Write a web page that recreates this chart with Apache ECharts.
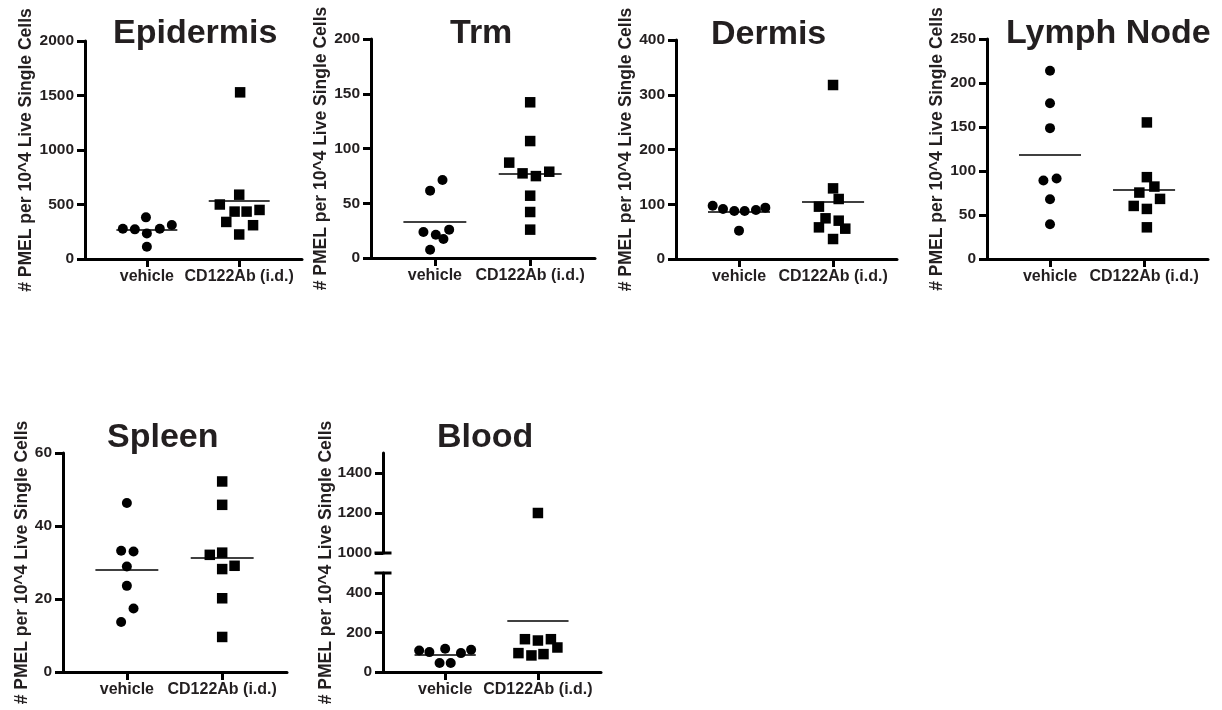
<!DOCTYPE html>
<html lang="en" style="height: 100%">
<head>
  <meta charset="utf-8">
</head>
<body style="height: 100%; margin: 0; background: #fff">
  <div id="container" style="width: 1222px; height: 710px"></div>

  <script type="text/javascript" src="https://cdn.jsdelivr.net/npm/echarts@6/dist/echarts.min.js"></script>

  <script type="text/javascript">
    // categories / titles / ticks
    var groups = ['vehicle', 'CD122Ab (i.d.)'];
    var titles = ['Epidermis', 'Trm', 'Dermis', 'Lymph Node', 'Spleen', 'Blood'];
    var yName = '# PMEL per 10^4 Live Single Cells';
    var yMax = [2000, 200, 400, 250, 60];
    var yStep = [500, 50, 100, 50, 20];
    var bloodLowTicks = [0, 200, 400];
    var bloodHighTicks = [1000, 1200, 1400];

    // values; *X = horizontal spread of each dot (category units)
    var epidermisVehicle = [278, 272, 235, 278, 312, 382, 113];
    var epidermisVehicleX = [-0.26, -0.13, 0, 0.14, 0.27, -0.01, 0];
    var epidermisCD = [1529, 590, 500, 435, 435, 450, 340, 310, 225];
    var epidermisCDX = [0.01, 0, -0.21, -0.05, 0.08, 0.22, -0.14, 0.15, 0];

    var trmVehicle = [61.5, 71.3, 23.7, 21.3, 25.9, 17.4, 7.6];
    var trmVehicleX = [-0.05, 0.08, -0.12, 0.01, 0.15, 0.09, -0.05];
    var trmCD = [142.2, 106.8, 87.1, 77.3, 74.8, 78.8, 56.9, 42.0, 25.9];
    var trmCDX = [0, 0, -0.22, -0.08, 0.06, 0.2, 0, 0, 0];

    var dermisVehicle = [97.4, 91.3, 87.7, 87.7, 89.5, 93.8, 51.8];
    var dermisVehicleX = [-0.28, -0.17, -0.05, 0.06, 0.18, 0.28, 0];
    var dermisCD = [317.8, 129, 109.6, 95.6, 74.3, 70, 57.8, 55.4, 36.5];
    var dermisCDX = [0, 0, 0.06, -0.15, -0.08, 0.06, -0.15, 0.13, 0];

    var lymphVehicle = [214, 177, 148.7, 89.2, 91.4, 67.9, 39.5];
    var lymphVehicleX = [0, 0, 0, -0.07, 0.07, 0, 0];
    var lymphCD = [155.2, 93, 82.3, 75.5, 68.3, 60.3, 56.9, 36];
    var lymphCDX = [0.03, 0.03, 0.11, -0.05, 0.17, -0.11, 0.03, 0.03];

    var spleenVehicle = [46.3, 33.2, 33, 28.9, 23.6, 17.4, 13.7];
    var spleenVehicleX = [0, -0.06, 0.07, 0, 0, 0.07, -0.06];
    var spleenCD = [52.2, 45.8, 32.1, 32.7, 29.1, 28.2, 20.2, 9.6];
    var spleenCDX = [0, 0, -0.13, 0, 0.13, 0, 0, 0];

    var bloodVehicle = [108.8, 100.4, 117, 95.4, 112, 45.2, 45.2];
    var bloodVehicleX = [-0.28, -0.17, 0, 0.17, 0.28, -0.06, 0.06];
    var bloodCD = [1200, 165.7, 159, 165.7, 95.4, 83.7, 90.4, 123.8];
    var bloodCDX = [0, -0.14, 0, 0.14, -0.21, -0.07, 0.06, 0.21];

    // layout
    var FONT = '"Liberation Sans", Arial, Helvetica, sans-serif';
    var INK = '#231f20';
    var X_MIN = -0.67, X_MAX = 1.68, HALF = 0.33;
    var boxes = [
      { left: 85, top: 41, width: 217, height: 218, tx: 113, ty: 17, gap: 47 },
      { left: 371, top: 39, width: 224, height: 219, tx: 450, ty: 17, gap: 35 },
      { left: 676, top: 40, width: 221, height: 219, tx: 711, ty: 18, gap: 35 },
      { left: 987, top: 39, width: 221, height: 220, tx: 1006, ty: 17, gap: 36 },
      { left: 63, top: 453, width: 224, height: 219, tx: 107, ty: 421, gap: 28 }
    ];
    var blood = { left: 383, width: 218, upTop: 453, upH: 100, lowTop: 573, lowH: 99, tx: 437, ty: 421, gap: 48 };

    var dom = document.getElementById('container');
    var myChart = echarts.init(dom, null, { renderer: 'canvas' });

    function mean(a) {
      var s = 0;
      for (var i = 0; i < a.length; i++) s += a[i];
      return s / a.length;
    }

    function pts(vals, jit, g, keep) {
      var out = [];
      vals.forEach(function (v, i) {
        if (!keep || keep(v)) out.push([g + jit[i], v]);
      });
      return out;
    }

    function labelStyle(size) {
      return { fontSize: size, fontWeight: 'bold', color: INK, fontFamily: FONT };
    }

    function xAxisFor(i, show) {
      return {
        type: 'value', gridIndex: i, min: X_MIN, max: X_MAX, show: show,
        axisLine: { onZero: false, lineStyle: { color: '#000', width: 3 } },
        axisTick: { customValues: [0, 1], length: 8, lineStyle: { color: '#000', width: 3 } },
        axisLabel: Object.assign({
          customValues: [0, 1], margin: 10,
          formatter: function (v) { return groups[Math.round(v)]; }
        }, labelStyle(16)),
        splitLine: { show: false }
      };
    }

    function yAxisFor(i, min, max, step, ticks, gap, caps) {
      var ax = {
        type: 'value', gridIndex: i, min: min, max: max,
        axisLine: { show: true, onZero: false, lineStyle: { color: '#000', width: 3 } },
        axisTick: { show: true, length: 8, lineStyle: { color: '#000', width: 3 } },
        axisLabel: Object.assign({
          margin: 11,
          formatter: function (v) { return String(v); }
        }, labelStyle(15.5)),
        splitLine: { show: false }
      };
      if (step) ax.interval = step;
      if (ticks) {
        ax.axisTick.customValues = ticks;
        ax.axisLabel.customValues = ticks;
      }
      if (caps) {
        ax.axisLine.symbol = caps;
        ax.axisLine.symbolSize = [17, 3];
      }
      if (gap != null) {
        ax.name = yName;
        ax.nameLocation = 'middle';
        ax.nameGap = gap;
        ax.nameRotate = 90;
        ax.nameTextStyle = { fontSize: 17.5, fontWeight: 'bold', color: INK, fontFamily: FONT };
      }
      return ax;
    }

    function dots(i, vals, jit, g, m, keep) {
      var s = {
        type: 'scatter', xAxisIndex: i, yAxisIndex: i,
        symbol: g === 0 ? 'circle' : 'rect',
        symbolSize: g === 0 ? 10 : 10.5,
        itemStyle: { color: '#000', opacity: 1 },
        emphasis: { disabled: true },
        data: pts(vals, jit, g, keep)
      };
      if (m != null) {
        s.markLine = {
          silent: true, symbol: ['none', 'none'], label: { show: false },
          emphasis: { disabled: true },
          lineStyle: { color: '#000', width: 1.5, type: 'solid' },
          data: [[{ coord: [g - HALF, m] }, { coord: [g + HALF, m] }]]
        };
      }
      return s;
    }

    var panelData = [
      [epidermisVehicle, epidermisVehicleX, epidermisCD, epidermisCDX],
      [trmVehicle, trmVehicleX, trmCD, trmCDX],
      [dermisVehicle, dermisVehicleX, dermisCD, dermisCDX],
      [lymphVehicle, lymphVehicleX, lymphCD, lymphCDX],
      [spleenVehicle, spleenVehicleX, spleenCD, spleenCDX]
    ];

    var grid = [], xAxis = [], yAxis = [], series = [], title = [];

    function addTitle(text, x, y) {
      title.push({
        text: text, left: x, top: y, padding: 0,
        textStyle: { fontSize: 34, fontWeight: 'bold', color: INK, fontFamily: FONT }
      });
    }

    panelData.forEach(function (d, i) {
      var b = boxes[i];
      grid.push({ left: b.left, top: b.top, width: b.width, height: b.height, containLabel: false, outerBoundsMode: 'none' });
      xAxis.push(xAxisFor(i, true));
      yAxis.push(yAxisFor(i, 0, yMax[i], yStep[i], null, b.gap, null));
      series.push(dots(i, d[0], d[1], 0, mean(d[0])));
      series.push(dots(i, d[2], d[3], 1, mean(d[2])));
      addTitle(titles[i], b.tx, b.ty);
    });

    // Blood: broken axis -> upper grid (5), lower grid (6), name holder (7)
    var up = 5, low = 6, nm = 7;
    grid.push({ left: blood.left, top: blood.upTop, width: blood.width, height: blood.upH, outerBoundsMode: 'none' });
    grid.push({ left: blood.left, top: blood.lowTop, width: blood.width, height: blood.lowH, outerBoundsMode: 'none' });
    grid.push({ left: blood.left, top: blood.upTop, width: blood.width, height: blood.lowTop + blood.lowH - blood.upTop, outerBoundsMode: 'none' });
    xAxis.push(xAxisFor(up, false));
    xAxis.push(xAxisFor(low, true));
    xAxis.push(xAxisFor(nm, false));
    yAxis.push(yAxisFor(up, 1000, 1500, null, bloodHighTicks, null, ['rect', 'none']));
    yAxis.push(yAxisFor(low, 0, 500, null, bloodLowTicks, null, ['none', 'rect']));
    var nameAxis = yAxisFor(nm, 0, 1, null, null, blood.gap, null);
    nameAxis.axisLine.show = false;
    nameAxis.axisTick.show = false;
    nameAxis.axisLabel.show = false;
    yAxis.push(nameAxis);
    var isHigh = function (v) { return v > 500; };
    var isLow = function (v) { return v <= 500; };
    series.push(dots(low, bloodVehicle, bloodVehicleX, 0, mean(bloodVehicle), isLow));
    series.push(dots(low, bloodCD, bloodCDX, 1, mean(bloodCD), isLow));
    series.push(dots(up, bloodCD, bloodCDX, 1, null, isHigh));
    addTitle(titles[5], blood.tx, blood.ty);

    var option = {
      animation: false,
      backgroundColor: '#fff',
      title: title,
      grid: grid,
      xAxis: xAxis,
      yAxis: yAxis,
      series: series
    };

    myChart.setOption(option);
    window.addEventListener('resize', myChart.resize);
  </script>
</body>
</html>
